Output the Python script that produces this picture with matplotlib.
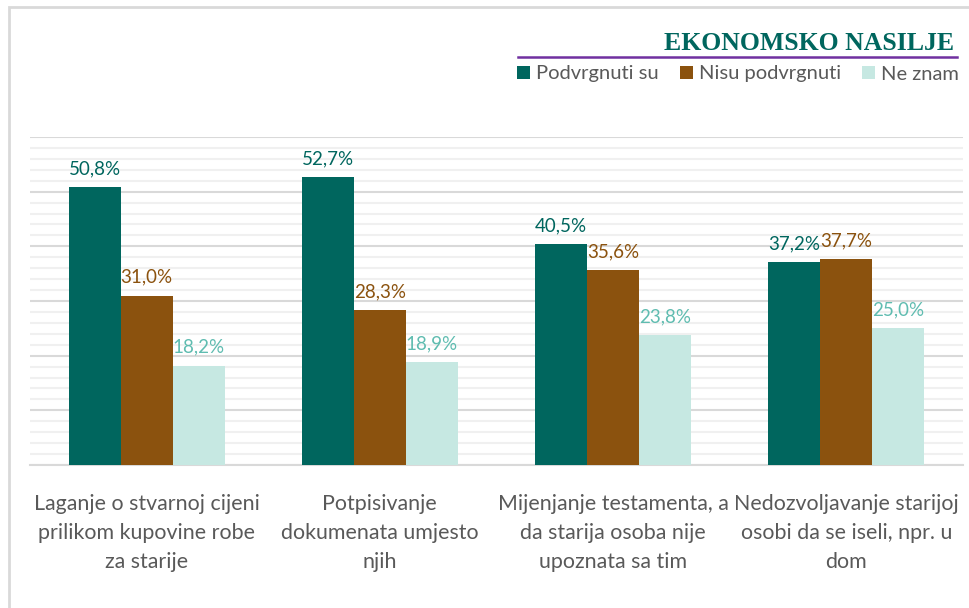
import matplotlib.pyplot as plt
from matplotlib.lines import Line2D
from matplotlib.patches import Rectangle

# Podaci
kategorije = ['Laganje o stvarnoj cijeni\nprilikom kupovine robe\nza starije',
              'Potpisivanje\ndokumenata umjesto\nnjih',
              'Mijenjanje testamenta, a\nda starija osoba nije\nupoznata sa tim',
              'Nedozvoljavanje starijoj\nosobi da se iseli, npr. u\ndom']
serije = ['Podvrgnuti su', 'Nisu podvrgnuti', 'Ne znam']
podvrgnuti = [50.8, 52.7, 40.5, 37.2]
nisu_podvrgnuti = [31.0, 28.3, 35.6, 37.7]
ne_znam = [18.2, 18.9, 23.8, 25.0]

boje = ['#00665e', '#8b520e', '#c6e8e2']
boje_oznaka = ['#00665e', '#8b520e', '#5fbcb0']
siva = '#595959'

plt.rcParams['font.family'] = ['Lato', 'DejaVu Sans']

fig = plt.figure(figsize=(9.7, 6.08), dpi=100)
ax = fig.add_axes([30 / 970, 1 - 465 / 608, 933 / 970, 328 / 608])

sirina = 0.223
x = list(range(len(kategorije)))
for i, vrijednosti in enumerate([podvrgnuti, nisu_podvrgnuti, ne_znam]):
    pozicije = [p + (i - 1) * sirina for p in x]
    stupci = ax.bar(pozicije, vrijednosti, sirina, color=boje[i], label=serije[i], zorder=3)
    for s, v in zip(stupci, vrijednosti):
        ax.annotate(f'{v:.1f}%'.replace('.', ','),
                    (s.get_x() + s.get_width() / 2, v),
                    xytext=(0, 7), textcoords='offset points',
                    ha='center', va='bottom', fontsize=13.5, color=boje_oznaka[i])

ax.set_xlim(-0.5, 3.5)
ax.set_ylim(0, 60)
ax.set_yticks(range(0, 61, 10))
ax.set_yticks(range(0, 61, 2), minor=True)
ax.grid(axis='y', which='major', color='#d9d9d9', linewidth=1.5, zorder=0)
ax.grid(axis='y', which='minor', color='#f0f0f0', linewidth=1.5, zorder=0)
ax.tick_params(axis='y', which='both', left=False, labelleft=False)
ax.set_xticks(x)
ax.set_xticklabels(kategorije, fontsize=15.4, color=siva, linespacing=1.55)
ax.tick_params(axis='x', length=0, pad=21)
for strana in ['top', 'right', 'left']:
    ax.spines[strana].set_visible(False)
ax.spines['bottom'].set_color('#d9d9d9')
ax.spines['bottom'].set_linewidth(1.5)

# Naslov i legenda
fig.text(954 / 970, 1 - 50 / 608, 'EKONOMSKO NASILJE', ha='right', va='baseline',
         fontsize=18.5, fontweight='bold', color='#00665e', family='Liberation Serif')
fig.add_artist(Line2D([518 / 970, 957 / 970], [1 - 57 / 608] * 2, color='#7030a0', linewidth=1.8))
fig.legend(loc='center right', bbox_to_anchor=(959 / 970, 1 - 74 / 608), ncol=3,
           frameon=False, fontsize=14.5, labelcolor=siva, handlelength=0.65, handleheight=0.65,
           handletextpad=0.3, columnspacing=1.05, borderaxespad=0, borderpad=0)

# Okvir
fig.add_artist(Rectangle((9 / 970, -0.1), 1.2, 1 - 7 / 608 + 0.1, transform=fig.transFigure,
                         fill=False, edgecolor='#d9d9d9', linewidth=2))

plt.savefig('out.png', dpi=100)
